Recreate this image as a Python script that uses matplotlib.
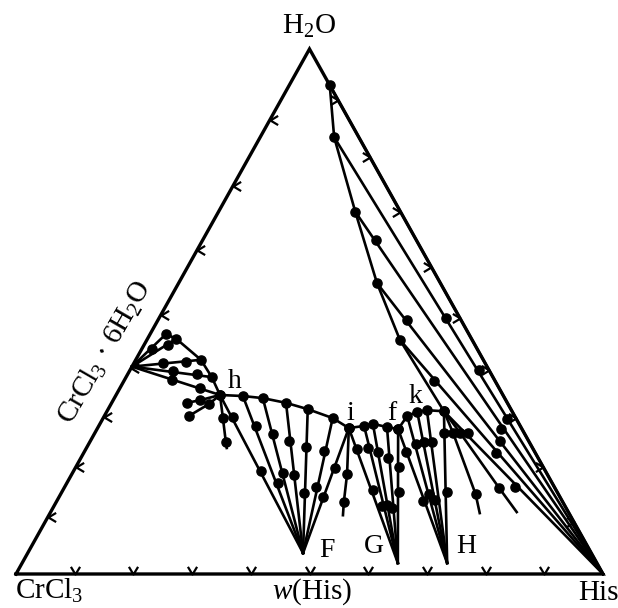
import numpy as np
import matplotlib
matplotlib.use('Agg')
import matplotlib.pyplot as plt
from matplotlib.path import Path

plt.rcParams['font.family'] = 'Liberation Serif'
plt.rcParams['mathtext.fontset'] = 'custom'
plt.rcParams['mathtext.rm'] = 'Liberation Serif'
plt.rcParams['mathtext.it'] = 'Liberation Serif:italic'

# compositions, mass %  ->  (w(His), w(H2O))
E = (0.0, 39.5)      # CrCl3·6H2O
F = (46.9, 4.0)
G = (64.0, 2.1)
H = (72.4, 2.1)
HIS = (100.0, 0.0)

# CrCl3·6H2O branch: liquid points (top -> h) and wet residues on each tie line
E_liq = [(2.7, 45.7), (4.9, 44.8), (11.1, 40.8), (14.6, 37.5), (17.7, 34.1)]
E_res = [[(1.7, 42.9)], [(4.1, 43.6)], [(4.9, 40.2), (8.8, 40.4)],
         [(7.4, 38.7), (11.8, 38.1)], [(8.1, 37.0), (13.6, 35.4)]]

# F branch (h -> i)
F_liq = [(17.7, 34.1), (21.7, 33.9), (25.3, 33.5), (29.7, 32.6), (34.0, 31.4),
         (39.1, 29.7), (42.8, 27.8)]
F_res = [[(22.0, 29.9), (31.9, 19.6)], [(26.8, 28.2), (36.0, 17.3)],
         [(30.4, 26.7), (35.9, 19.2)], [(33.8, 25.3), (37.9, 18.9)],
         [(37.3, 24.2), (41.3, 15.4)], [(40.8, 23.4), (42.8, 16.6)],
         [(44.2, 20.2), (45.0, 14.7)]]

# G branch (i -> f)
G_liq = [(42.8, 27.8), (45.2, 28.2), (46.5, 28.6), (49.2, 28.0), (51.3, 27.6)]
G_res = [[(46.2, 23.8), (52.8, 16.0)], [(48.0, 24.0), (55.9, 13.0)],
         [(50.1, 23.2), (56.6, 13.1)], [(52.3, 22.1), (57.8, 12.6)],
         [(55.1, 20.4), (57.4, 15.6)]]

# H branch (f -> k)
H_liq = [(51.3, 27.6), (51.6, 30.1), (52.9, 30.9), (54.4, 31.2), (57.4, 31.0)]
H_res = [[(54.8, 23.2), (62.4, 13.9)], [(55.8, 24.8), (62.7, 15.2)],
         [(56.9, 25.1), (64.3, 14.1)], [(58.3, 25.1)],
         [(59.5, 26.9), (65.6, 15.6)]]

# His branch (k -> binary H2O-His point)
His_liq = [(57.4, 31.0), (43.1, 44.6), (33.8, 55.4), (23.3, 69.0), (12.6, 83.2), (6.9, 93.1)]
His_res = [[(63.6, 26.9), (76.7, 16.6)], [(52.8, 36.8), (70.2, 23.0)],
           [(42.4, 48.4), (69.8, 25.3)], [(29.5, 63.6), (68.8, 27.6)],
           [(48.9, 48.8), (59.4, 38.9), (68.9, 29.5)], []]

# short lines from the invariant points h, i, k
inv_lines = [
    [(17.7, 34.1), (14.8, 33.1), (12.8, 32.6)],
    [(17.7, 34.1), (16.7, 32.4), (14.4, 30.1)],
    [(17.7, 34.1), (20.4, 29.7), (23.2, 25.1), (23.9, 24.0)],
    [(42.8, 27.8), (46.9, 19.0), (49.0, 13.7), (50.1, 11.2)],
    [(57.4, 31.0), (61.0, 26.9), (70.7, 15.2), (73.2, 11.6)],
    [(57.4, 31.0), (62.2, 26.9), (74.1, 16.4), (79.4, 11.8)],
]
inv_dots = [(14.8, 33.1), (12.8, 32.6), (16.7, 32.4), (14.4, 30.1), (20.4, 29.7),
            (23.2, 25.1), (46.9, 19.0), (49.0, 13.7), (61.0, 26.9), (70.7, 15.2),
            (62.2, 26.9), (74.1, 16.4)]

# edge tick positions (%)
base_ticks = [10, 20, 30, 40, 50, 60, 70, 80, 90]                  # w(His) on CrCl3-His
left_ticks = [10.9, 20.4, 29.9, 39.2, 49.3, 61.7, 73.9, 86.5]      # w(H2O) on CrCl3-H2O
right_ticks = [10, 20.4, 29.7, 38.9, 48.8, 58.5, 69, 79.4, 90.3]   # w(H2O) on His-H2O

LW = 1.9
MS = 6.6


def cart(pts):
    pts = np.atleast_2d(np.asarray(pts, dtype=float))
    return pts[:, 0] + pts[:, 1] / 2, pts[:, 1]


def chevron(verts):
    return Path(verts, [Path.MOVETO, Path.LINETO, Path.LINETO])


fig = plt.figure(figsize=(6.18, 6.08), dpi=100)
ax = fig.add_axes([0, 0, 1, 1])
ax.set_xlim(-16 / 5.87, 602 / 5.87)
ax.set_ylim(-34 / 5.25, 574 / 5.25)
ax.axis('off')

# triangle
x, y = cart([(0, 0), (100, 0), (0, 100), (0, 0)])
ax.plot(x, y, color='k', lw=2.4, solid_joinstyle='miter')

# ticks
x, y = cart([(t, 0) for t in base_ticks])
ax.plot(x, y, ls='none', marker=chevron([(-0.6, 1), (0, 0), (0.6, 1)]),
        ms=11, mfc='none', mec='k', mew=1.6)
x, y = cart([(0, t) for t in left_ticks])
ax.plot(x, y, ls='none', marker=chevron([(1, 0.6), (0, 0), (1, -0.6)]),
        ms=11, mfc='none', mec='k', mew=1.6)
x, y = cart([(100 - t, t) for t in right_ticks])
ax.plot(x, y, ls='none', marker=chevron([(-1, 0.6), (0, 0), (-1, -0.6)]),
        ms=11, mfc='none', mec='k', mew=1.6)

# solubility curve
curve = E_liq + F_liq[1:] + G_liq[1:] + H_liq[1:] + His_liq[1:]
x, y = cart(curve)
ax.plot(x, y, color='k', lw=LW)

# tie lines with wet residues
for solid, liq, res in [(E, E_liq, E_res), (F, F_liq, F_res), (G, G_liq, G_res),
                        (H, H_liq, H_res), (HIS, His_liq, His_res)]:
    for p, r in zip(liq, res):
        x, y = cart([p, solid])
        ax.plot(x, y, color='k', lw=LW)
        x, y = cart([p] + r)
        ax.plot(x, y, 'o', color='k', ms=MS, zorder=3)

for line in inv_lines:
    x, y = cart(line)
    ax.plot(x, y, color='k', lw=LW)
x, y = cart(inv_dots)
ax.plot(x, y, 'o', color='k', ms=MS, zorder=3)


def label(text, pt, dx, dy, size=20, **kw):
    x, y = cart(pt)
    ax.annotate(text, (x[0], y[0]), xytext=(dx, dy), textcoords='offset pixels',
                ha='center', va='baseline', fontsize=size, **kw)


label('H$_2$O', (0, 100), 0, 15, size=21)
label('CrCl$_3$', (0, 0), 33, -25, size=21)
label('$w$(His)', (50.5, 0), 0, -25, size=21)
label('His', HIS, -5, -26, size=21)
x, y = cart(E)
ax.annotate('CrCl$_3$ · 6H$_2$O', (x[0], y[0]), xytext=(-27, 14), textcoords='offset pixels',
            ha='center', va='center', rotation=60, rotation_mode='anchor', fontsize=21)

label('h', (17.7, 34.1), 15, 7)
label('i', (42.8, 27.8), 1, 8)
label('f', (51.3, 27.6), -6, 9)
label('k', (57.4, 31.0), -28, 8)
label('F', F, 24, -4)
label('G', G, -24, 10)
label('H', H, 19, 10)

fig.savefig('out.png', dpi=100)
